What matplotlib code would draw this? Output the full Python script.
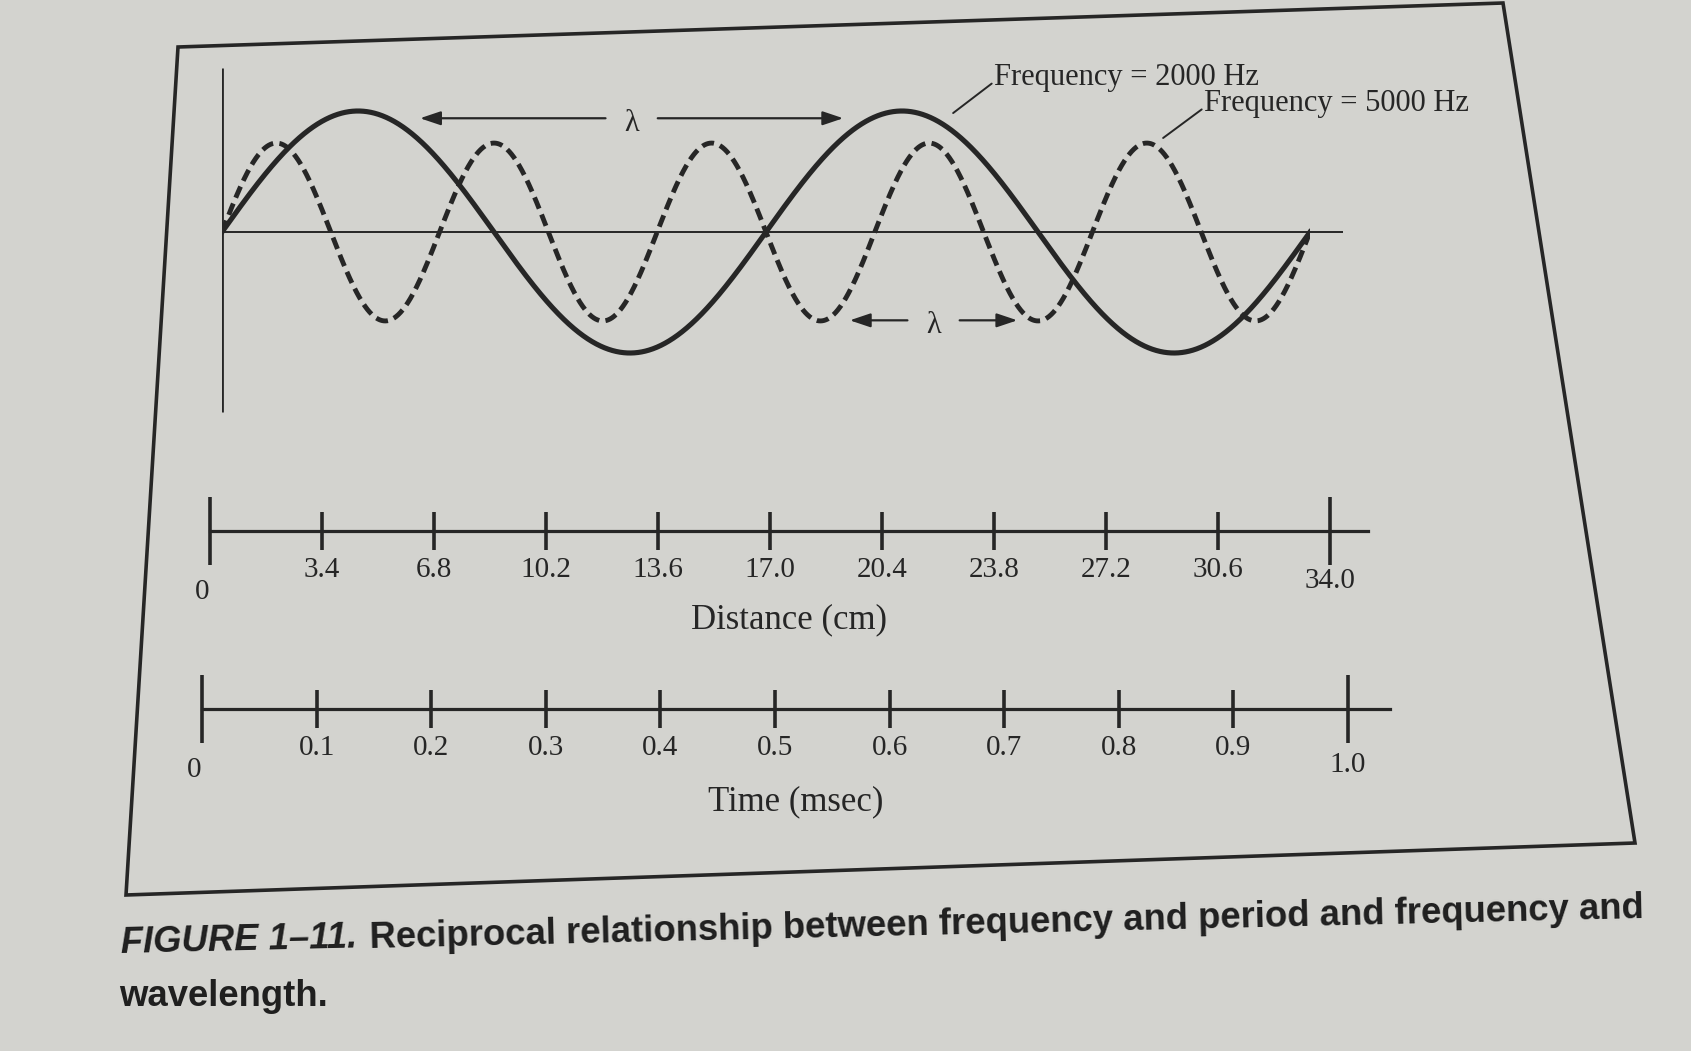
import numpy as np
import matplotlib.pyplot as plt
from matplotlib.patches import Polygon

W, H = 1691, 1051
paper = '#d3d3cf'
ink = '#262626'

# chart values
freqs = [2000, 5000]          # Hz, solid and dashed wave
amps = [1.0, 0.735]           # relative amplitude of each wave
duration = 1.0                # msec shown
dist_ticks = [0, 3.4, 6.8, 10.2, 13.6, 17.0, 20.4, 23.8, 27.2, 30.6, 34.0]
dist_labels = ['0', '3.4', '6.8', '10.2', '13.6', '17.0', '20.4', '23.8', '27.2', '30.6', '34.0']
time_ticks = [0, 0.1, 0.2, 0.3, 0.4, 0.5, 0.6, 0.7, 0.8, 0.9, 1.0]
time_labels = ['0', '0.1', '0.2', '0.3', '0.4', '0.5', '0.6', '0.7', '0.8', '0.9', '1.0']
caption_a = 'FIGURE 1\u201311.'
caption_b = 'Reciprocal relationship between frequency and period and frequency and'
caption_c = 'wavelength.'

serif = dict(family=['Liberation Serif', 'DejaVu Serif'], color=ink)
sans = dict(family=['Liberation Sans', 'DejaVu Sans'], fontweight='bold', color='#1f1f1f')


def px_box(x0, x1, y0, y1):
    # pixel box (y from top) -> figure fraction rect
    return [x0 / W, 1 - y1 / H, (x1 - x0) / W, (y1 - y0) / H]


fig = plt.figure(figsize=(W / 100, H / 100), dpi=100, facecolor=paper)

# overlay in pixel units for the printed frame and the caption
bg = fig.add_axes([0, 0, 1, 1])
bg.set_xlim(0, W)
bg.set_ylim(H, 0)
bg.axis('off')
bg.add_patch(Polygon([(178, 47), (1503, 3), (1635, 843), (126, 895)], closed=True,
                     fill=False, ec=ink, lw=2.6, joinstyle='miter'))

# caption: size it so the first line spans the printed width
renderer = fig.canvas.get_renderer()
probe_a = bg.text(0, 0, caption_a, fontsize=20, fontstyle='italic', **sans)
probe_b = bg.text(0, 0, caption_b, fontsize=20, **sans)
wa = probe_a.get_window_extent(renderer).width
wb = probe_b.get_window_extent(renderer).width
probe_a.remove()
probe_b.remove()
cap_size = 20 * 1524. / (wa + wb + 9)
gap = 9 * cap_size / 20

tilt = 1.35
ang = np.deg2rad(tilt)
bg.text(121, 944, caption_a, fontsize=cap_size, fontstyle='italic', va='center',
        rotation=tilt, rotation_mode='anchor', **sans)
w1 = wa * cap_size / 20 + gap
bg.text(121 + w1 * np.cos(ang), 944 - w1 * np.sin(ang), caption_b, fontsize=cap_size,
        va='center', rotation=tilt, rotation_mode='anchor', **sans)
bg.text(119, 997, caption_c, fontsize=cap_size, va='center', **sans)

# waves
ax = fig.add_axes(px_box(222, 1310, 50.5, 413.5))
ax.set_xlim(0, duration)
ax.set_ylim(-1.5, 1.5)
ax.axis('off')
t = np.linspace(0, duration, 3000)
ax.plot(t, amps[0] * np.sin(2 * np.pi * freqs[0] * t / 1000.), color=ink, lw=3.7)
ax.plot(t, amps[1] * np.sin(2 * np.pi * freqs[1] * t / 1000.), color=ink, lw=3.5,
        dashes=(2.5, 1.3))
ax.hlines(0, 0, 1.03, color=ink, lw=1.4, clip_on=False)
ax.vlines(0, -1.49, 1.355, color=ink, lw=2.0)


def wavelength_arrow(x0, x1, y, gap=0.024):
    xm = (x0 + x1) / 2.
    ax.text(xm, y - 0.04, '\u03bb', ha='center', va='center', fontsize=22, **serif)
    for xs, xe in ((xm - gap, x0), (xm + gap, x1)):
        ax.annotate('', xy=(xe, y), xytext=(xs, y),
                    arrowprops=dict(arrowstyle='-|>,head_length=1.25,head_width=0.42',
                                    mutation_scale=10, color=ink, lw=1.6,
                                    shrinkA=0, shrinkB=0))


wavelength_arrow(0.182, 0.571, 0.94)
wavelength_arrow(0.577, 0.731, -0.73)

lead = dict(arrowstyle='-', color=ink, lw=1.4, shrinkA=0, shrinkB=0, relpos=(0, 0.35))
ax.annotate('Frequency = %d Hz' % freqs[0], xy=(0.672, 0.983), xytext=(0.710, 1.28),
            ha='left', va='center', fontsize=22, arrowprops=lead, **serif)
ax.annotate('Frequency = %d Hz' % freqs[1], xy=(0.865, 0.777), xytext=(0.903, 1.066),
            ha='left', va='center', fontsize=22, arrowprops=lead, **serif)


def scale_axis(rect, xmax, ticks, labels, title, labelpad, end_drop):
    a = fig.add_axes(rect)
    a.patch.set_visible(False)
    for s in ('top', 'left', 'right'):
        a.spines[s].set_visible(False)
    a.spines['bottom'].set_linewidth(2.3)
    a.spines['bottom'].set_color(ink)
    a.set_xlim(0, xmax)
    a.set_yticks([])
    a.set_xticks(ticks, [''] + labels[1:-1] + [''])
    a.tick_params(axis='x', direction='inout', length=27, width=2.6, pad=5,
                  labelsize=21, color=ink, labelcolor=ink)
    for lab in a.get_xticklabels():
        lab.set_family(serif['family'])
    tk = a.xaxis.get_major_ticks()
    for k in (0, -1):
        tk[k].tick1line.set_markersize(49)
    # end labels sit lower, below the long end ticks
    for x, lab, dx, dy in ((ticks[0], labels[0], -5.5, -44), (ticks[-1], labels[-1], 0, end_drop)):
        a.annotate(lab, xy=(x, 0), xycoords=('data', 'axes fraction'), xytext=(dx, dy),
                   textcoords='offset points', ha='center', va='center', fontsize=21,
                   **serif)
    a.set_xlabel(title, fontsize=25, labelpad=labelpad, **serif)
    return a


# distance scale: 0 at x=210 px, 34 cm at 1330 px, line runs to 1368 px
scale_axis(px_box(210, 1368, 521, 531), 34 * (1368 - 210) / 1120., dist_ticks, dist_labels,
           'Distance (cm)', 15, -36)
# time scale: 0 at x=202 px, 1.0 ms at 1348 px, line runs to 1390 px
scale_axis(px_box(202, 1390, 699, 709), (1390 - 202) / 1146., time_ticks, time_labels,
           'Time (msec)', 18, -40)

fig.savefig('out.png', dpi=100, facecolor=paper)
